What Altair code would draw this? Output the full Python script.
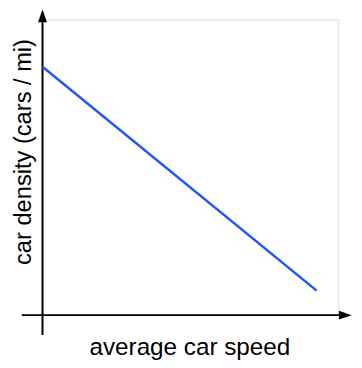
import altair as alt
import pandas as pd

# line data
speed = [0.0, 9.27]
density = [8.4, 0.83]

# axis extents (data units)
x_axis_from = [-0.7]
x_axis_to = [10.1]
y_axis_from = [-0.67]
y_axis_to = [10.05]
x_arrow = [10.24]
y_arrow = [10.12]

FONT = "Liberation Sans"

xs = alt.Scale(domain=[0, 10], nice=False, zero=False)
ys = alt.Scale(domain=[0, 10], nice=False, zero=False)

xax = alt.Axis(domain=False, ticks=False, labels=False, grid=False,
               title="average car speed", titleFont=FONT, titleFontSize=24.6,
               titleFontWeight="normal", titleColor="black",
               titleX=149, titleY=40, titleAlign="center", titleBaseline="alphabetic")
yax = alt.Axis(domain=False, ticks=False, labels=False, grid=False,
               title="car density (cars / mi)", titleFont=FONT, titleFontSize=24,
               titleFontWeight="normal", titleColor="black", titleAngle=270,
               titleX=-12.5, titleY=134, titleAlign="center", titleBaseline="alphabetic")

line_df = pd.DataFrame({"x": speed, "y": density})
xrule_df = pd.DataFrame({"x": x_axis_from, "x2": x_axis_to, "y": [0.0]})
yrule_df = pd.DataFrame({"x": [0.0], "y": y_axis_from, "y2": y_axis_to})
xarr_df = pd.DataFrame({"x": x_arrow, "y": [0.0]})
yarr_df = pd.DataFrame({"x": [0.0], "y": y_arrow})

line = alt.Chart(line_df).mark_line(color="#1f55ff", strokeWidth=2.5).encode(
    x=alt.X("x:Q", scale=xs, axis=xax),
    y=alt.Y("y:Q", scale=ys, axis=yax),
)
xrule = alt.Chart(xrule_df).mark_rule(color="black", strokeWidth=2).encode(
    x=alt.X("x:Q", scale=xs, axis=xax), x2="x2:Q",
    y=alt.Y("y:Q", scale=ys, axis=yax),
)
yrule = alt.Chart(yrule_df).mark_rule(color="black", strokeWidth=2).encode(
    x=alt.X("x:Q", scale=xs, axis=xax),
    y=alt.Y("y:Q", scale=ys, axis=yax), y2="y2:Q",
)
xarr = alt.Chart(xarr_df).mark_point(
    shape="M1,0L-1,-0.7L-1,0.7Z", size=169, filled=True, color="black", opacity=1
).encode(x=alt.X("x:Q", scale=xs, axis=xax), y=alt.Y("y:Q", scale=ys, axis=yax))
yarr = alt.Chart(yarr_df).mark_point(
    shape="M0,-1L0.7,1L-0.7,1Z", size=169, filled=True, color="black", opacity=1
).encode(x=alt.X("x:Q", scale=xs, axis=xax), y=alt.Y("y:Q", scale=ys, axis=yax))

chart = alt.layer(yrule, xrule, line, xarr, yarr).properties(
    width=300, height=300,
    autosize=alt.AutoSizeParams(type="none"),
    padding={"left": 35, "top": 9, "right": 16, "bottom": 47},
).configure_view(stroke=None).configure(background="white")

chart.save("out.html", embed_options={"renderer": "svg", "actions": False})
